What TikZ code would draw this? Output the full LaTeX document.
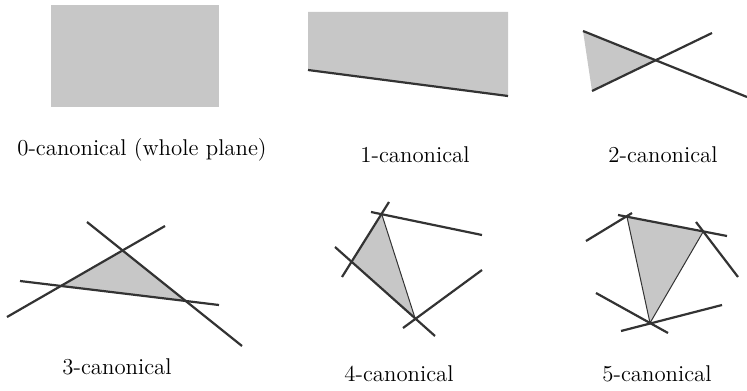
\documentclass[tikz,border=0pt]{standalone}
\begin{document}
\begin{tikzpicture}[x=0.5pt,y=-0.5pt,
  ln/.style={draw=black!80,line width=1.1pt},
  edge/.style={draw=black!80,line width=0.5pt},
  reg/.style={fill=black!22},
  lab/.style={font=\fontsize{11.4}{13}\selectfont,inner sep=0pt}]
\useasboundingbox (0,0) rectangle (747,390);
% panel 0
\fill[reg] (51,5) rectangle (219,107);
\node[lab] (l0) at (142,150) {0-canonical (whole plane)};
% panel 1
\fill[reg] (308,12) -- (508,12) -- (508,96) -- (308,70) -- cycle;
\draw[ln] (308,70) -- (508,96);
\node[lab] (l1) at (415,155) {1-canonical};
% panel 2
\coordinate (p2a) at (583,31);
\coordinate (p2b) at (747,97);
\coordinate (p2c) at (592,91);
\coordinate (p2d) at (712,33);
\coordinate (p2x) at (657,60);
\fill[reg] (p2a) -- (p2x) -- (p2c) -- cycle;
\draw[ln] (p2a) -- (p2b);
\draw[ln] (p2c) -- (p2d);
\node[lab] (l2) at (663,155) {2-canonical};
% panel 3
\coordinate (t1) at (123,251);
\coordinate (t2) at (61,287);
\coordinate (t3) at (185,300);
\fill[reg] (t1) -- (t2) -- (t3) -- cycle;
\draw[ln] (87,222) -- (242,346);
\draw[ln] (7,317) -- (165,226);
\draw[ln] (20,281) -- (219,305);
\node[lab] (l3) at (117,367) {3-canonical};
% panel 4
\coordinate (q1) at (382,215);
\coordinate (q2) at (352,262);
\coordinate (q3) at (415,318);
\fill[reg] (q1) -- (q2) -- (q3) -- cycle;
\draw[edge] (q1) -- (q3);
\draw[ln] (371,212) -- (482,235);
\draw[ln] (389,202) -- (342,277);
\draw[ln] (335,247) -- (435,336);
\draw[ln] (403,328) -- (482,270);
\node[lab] (l4) at (399,374) {4-canonical};
% panel 5
\coordinate (r1) at (627,217);
\coordinate (r2) at (703,232);
\coordinate (r3) at (650,323);
\fill[reg] (r1) -- (r2) -- (r3) -- cycle;
\draw[edge] (r1) -- (r3) -- (r2);
\draw[ln] (618,215) -- (727,236);
\draw[ln] (586,241) -- (632,213);
\draw[ln] (696,222) -- (738,277);
\draw[ln] (596,293) -- (668,333);
\draw[ln] (621,331) -- (722,305);
\node[lab] (l5) at (657,374) {5-canonical};
\end{tikzpicture}
\end{document}
